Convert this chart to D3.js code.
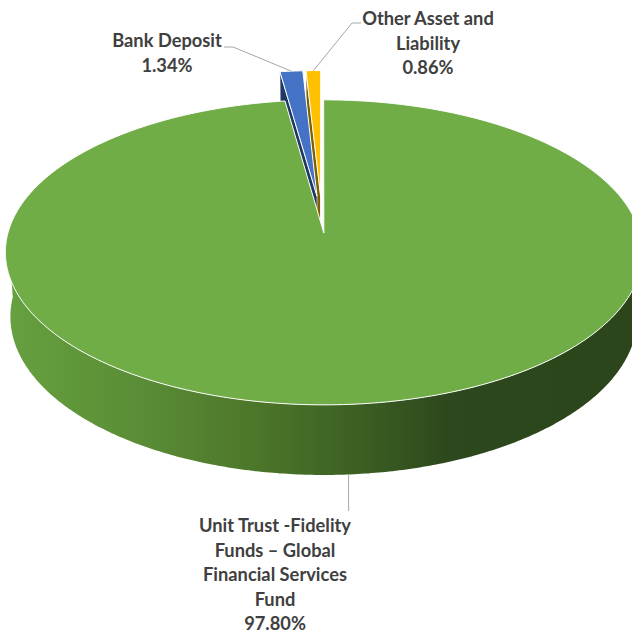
<!DOCTYPE html>
<html>
<head>
<meta charset="utf-8">
<script src="https://cdn.jsdelivr.net/npm/d3@7"></script>
<style>
  body { margin: 0; background: #fff; }
  svg { display: block; }
  .lbl { font-family: Lato, 'Open Sans', sans-serif; font-weight: bold; font-size: 18.3px; fill: #404040; }
  .leader { fill: none; stroke: #a6a6a6; stroke-width: 1; }
</style>
</head>
<body>
<div id="chart"></div>
<script>
// data
const categories = ['Unit Trust -Fidelity Funds – Global Financial Services Fund', 'Bank Deposit', 'Other Asset and Liability'];
const values = [97.80, 1.34, 0.86];
const labelLines = [
  ['Unit Trust -Fidelity', 'Funds – Global', 'Financial Services', 'Fund'],
  ['Bank Deposit'],
  ['Other Asset and', 'Liability']
];

// look
const topColors = ['#70ad47', '#4472c4', '#ffc000'];
const wallColors = ['#375623', '#1f3864', '#7f6000'];
const explode = [0.085, 0.17, 0.17];

const width = 632, height = 633;

// perspective camera for the 3d pie (unit radius)
const cx = 322, cy = 220.5;
const tilt = Math.asin(0.47), cosT = Math.cos(tilt), sinT = Math.sin(tilt);
const dist = 7.064, focal = 2208, depth = 0.234;
const camera = [0, dist * sinT, -dist * cosT];

function project(x, y, z) {
  const yv = y * cosT + z * sinT;
  const zv = -y * sinT + z * cosT;
  return [cx + focal * x / (dist + zv), cy - focal * yv / (dist + zv)];
}

const data = categories.map((name, i) => ({name: name, value: values[i], index: i}));
const arcs = d3.pie().sort(null).value(d => d.value)(data);

arcs.forEach(a => {
  a.mid = (a.startAngle + a.endAngle) / 2;
  const e = explode[a.index];
  a.ox = e * Math.sin(a.mid);
  a.oz = e * Math.cos(a.mid);
});

function pt(a, theta, r, y) {
  return project(a.ox + r * Math.sin(theta), y, a.oz + r * Math.cos(theta));
}
function rim(a, t0, t1, y) {
  const n = Math.max(2, Math.ceil(Math.abs(t1 - t0) / 0.01));
  return d3.range(n + 1).map(i => pt(a, t0 + (t1 - t0) * i / n, 1, y));
}
// is a radial wall facing the camera?
function facing(a, nx, nz) {
  return (camera[0] - a.ox) * nx + (camera[2] - a.oz) * nz > 0;
}

const line = d3.line().curve(d3.curveLinear);
const closed = pts => line(pts) + 'Z';

const svg = d3.select('#chart')
  .append('svg')
  .attr('width', width)
  .attr('height', height);

const grad = svg.append('defs')
  .append('linearGradient')
  .attr('id', 'sideGrad')
  .attr('gradientUnits', 'userSpaceOnUse')
  .attr('x1', 8).attr('x2', 636).attr('y1', 0).attr('y2', 0);
[[0, '#66a03f'], [0.2, '#5b8e36'], [0.42, '#4a7329'], [0.58, '#3a5c22'], [0.7, '#2d481d'], [1, '#2c451b']]
  .forEach(s => grad.append('stop').attr('offset', s[0]).attr('stop-color', s[1]));

const g = svg.append('g');

// far slices first
const order = arcs.slice().sort((p, q) => q.oz - p.oz);

order.forEach(a => {
  const s = a.startAngle, e = a.endAngle;
  const walls = [];

  // radial wall on start edge
  if (facing(a, -Math.cos(s), Math.sin(s))) {
    walls.push([pt(a, 0, 0, 0), pt(a, s, 1, 0), pt(a, s, 1, -depth), pt(a, 0, 0, -depth)]);
  }
  // radial wall on end edge
  if (facing(a, Math.cos(e), -Math.sin(e))) {
    walls.push([pt(a, 0, 0, 0), pt(a, e, 1, 0), pt(a, e, 1, -depth), pt(a, 0, 0, -depth)]);
  }
  walls.forEach(w => {
    g.append('path')
      .attr('d', closed(w))
      .attr('fill', wallColors[a.index])
      .attr('stroke', '#fff')
      .attr('stroke-width', 0.6)
      .attr('stroke-linejoin', 'round');
  });

  // outer curved wall, front half only
  const t0 = Math.max(s, Math.PI / 2), t1 = Math.min(e, Math.PI * 3 / 2);
  if (t1 > t0) {
    const pts = rim(a, t0, t1, 0).concat(rim(a, t1, t0, -depth));
    g.append('path')
      .attr('d', closed(pts))
      .attr('fill', a.index === 0 ? 'url(#sideGrad)' : wallColors[a.index]);
  }

  // top face
  g.append('path')
    .attr('d', closed([pt(a, 0, 0, 0)].concat(rim(a, s, e, 0))))
    .attr('fill', topColors[a.index])
    .attr('stroke', '#fff')
    .attr('stroke-width', 1)
    .attr('stroke-linejoin', 'round');
});

// labels and leader lines
const fmt = d => d3.format('.2f')(d) + '%';

const labelPos = [
  {x: 275, y: 532, anchor: a => pt(a, a.mid, 1, -depth), bend: p => [[p[0], p[1]], [p[0], 511]]},
  {x: 167, y: 47, anchor: a => pt(a, a.mid, 1, 0), bend: p => [[224, 47], [233, 47], p]},
  {x: 428, y: 25, anchor: a => pt(a, a.mid, 1, 0), bend: p => [[361, 23], [352, 23], p]}
];

arcs.forEach(a => {
  const lp = labelPos[a.index];
  g.append('path')
    .attr('class', 'leader')
    .attr('d', line(lp.bend(lp.anchor(a))));

  const txt = g.append('text')
    .attr('class', 'lbl')
    .attr('text-anchor', 'middle')
    .attr('x', lp.x)
    .attr('y', lp.y);
  labelLines[a.index].concat([fmt(a.value)]).forEach((t, i) => {
    txt.append('tspan')
      .attr('x', lp.x)
      .attr('dy', i === 0 ? 0 : 24.5)
      .text(t);
  });
});
</script>
</body>
</html>
